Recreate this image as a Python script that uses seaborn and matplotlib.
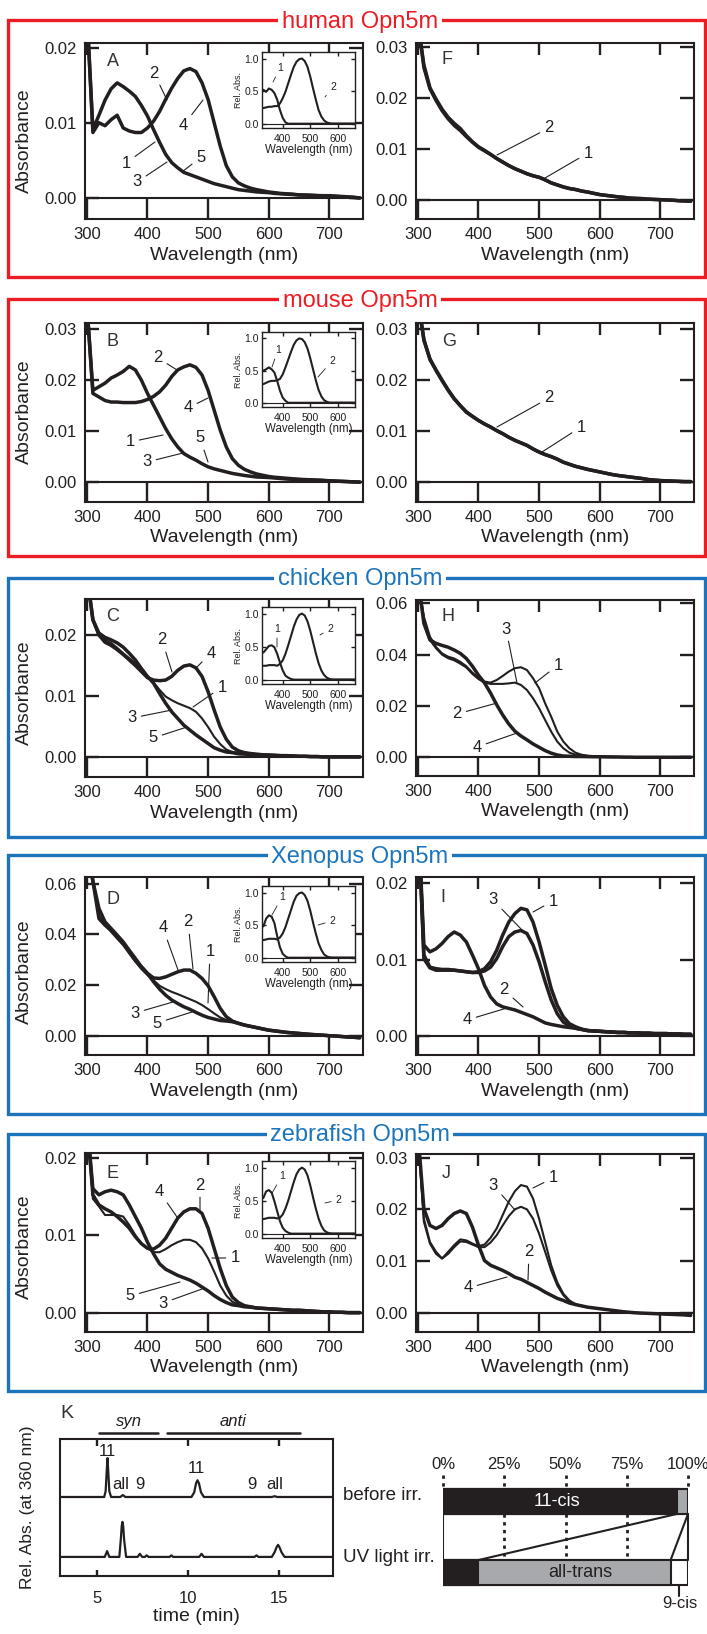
import numpy as np
import pandas as pd
import matplotlib
matplotlib.use('Agg')
import matplotlib.pyplot as plt
from matplotlib.patches import Rectangle
from matplotlib.ticker import FormatStrFormatter
import seaborn as sns

W, H = 707, 1634
INK = '#231F20'
RED = '#ED1C24'
BLUE = '#1C75BC'
GRAY = '#A7A9AC'

# ---------------- data (absorbance in mAbs) ----------------
WL = list(range(300, 760, 10))
IN_WL = list(range(330, 670, 10))

A_UV = [25, 9.1, 11.0, 13.0, 14.5, 15.3, 14.8, 14.2, 13.5, 12.3,
        10.9, 9.1, 7.4, 5.8, 4.7, 4.0, 3.4, 3.1, 2.8, 2.5,
        2.2, 1.9, 1.7, 1.5, 1.3, 1.1, 1.0, 0.9, 0.8, 0.75,
        0.7, 0.6, 0.55, 0.5, 0.45, 0.4, 0.38, 0.35, 0.32, 0.3,
        0.3, 0.25, 0.2, 0.15, 0.1, 0.0]
A_VIS = [25, 8.7, 10.0, 9.6, 10.4, 11.0, 9.3, 8.9, 8.7, 8.7,
         9.3, 10.2, 11.5, 13.1, 14.6, 15.9, 16.9, 17.2, 16.8, 15.3,
         13.1, 10.0, 6.9, 4.3, 2.8, 2.0, 1.6, 1.3, 1.1, 0.95,
         0.8, 0.7, 0.6, 0.55, 0.5, 0.4, 0.38, 0.35, 0.3, 0.28,
         0.25, 0.2, 0.15, 0.1, 0.05, 0.0]
F_1 = [35, 26.0, 21.8, 19.5, 17.5, 15.9, 14.6, 13.6, 12.4, 11.3,
       10.3, 9.6, 8.9, 8.1, 7.4, 6.7, 6.1, 5.6, 5.1, 4.7,
       4.4, 3.9, 3.3, 2.9, 2.5, 2.2, 2.0, 1.7, 1.5, 1.25,
       1.0, 0.85, 0.7, 0.55, 0.45, 0.3, 0.25, 0.2, 0.1, 0.05,
       0.0, -0.05, -0.1, -0.2, -0.25, -0.3]
F_2 = [35, 26.5, 22.0, 19.8, 17.8, 16.2, 15.0, 14.0, 12.6, 11.4,
       10.4, 9.7, 8.9, 8.1, 7.4, 6.7, 6.1, 5.6, 5.1, 4.7,
       4.4, 3.9, 3.3, 2.9, 2.5, 2.2, 2.0, 1.7, 1.5, 1.25,
       1.0, 0.85, 0.7, 0.55, 0.45, 0.3, 0.25, 0.2, 0.1, 0.05,
       0.0, -0.05, -0.1, -0.2, -0.25, -0.3]
B_UV = [35, 18.0, 18.7, 19.4, 20.4, 21.0, 21.7, 22.7, 22.0, 20.0,
        17.4, 15.1, 12.8, 10.5, 8.5, 6.9, 5.6, 4.9, 4.3, 3.6,
        3.0, 2.6, 2.3, 2.0, 1.7, 1.5, 1.3, 1.15, 1.0, 0.95,
        0.9, 0.8, 0.7, 0.6, 0.55, 0.5, 0.45, 0.4, 0.35, 0.3,
        0.25, 0.2, 0.15, 0.1, 0.05, 0.0]
B_VIS = [35, 17.4, 16.7, 16.0, 15.7, 15.7, 15.6, 15.6, 15.6, 15.8,
         16.2, 16.8, 17.7, 19.0, 20.7, 22.0, 22.6, 23.0, 22.5, 21.0,
         18.0, 14.1, 10.2, 6.9, 4.6, 3.3, 2.5, 2.0, 1.6, 1.35,
         1.1, 0.95, 0.85, 0.75, 0.65, 0.55, 0.5, 0.45, 0.4, 0.35,
         0.25, 0.2, 0.15, 0.1, 0.05, 0.0]
G_1 = [36, 27.8, 24.2, 21.9, 19.9, 18.0, 16.3, 15.0, 13.7, 12.9,
       12.1, 11.4, 10.8, 10.1, 9.5, 8.8, 8.2, 7.7, 7.2, 6.5,
       5.9, 5.4, 5.0, 4.5, 3.9, 3.5, 3.1, 2.8, 2.5, 2.25,
       2.0, 1.75, 1.5, 1.3, 1.15, 1.0, 0.85, 0.7, 0.5, 0.4,
       0.3, 0.25, 0.2, 0.15, 0.1, 0.1]
G_2 = [36, 28.0, 24.0, 22.0, 20.0, 18.1, 16.4, 15.0, 13.8, 12.9,
       12.1, 11.4, 10.8, 10.1, 9.5, 8.8, 8.2, 7.7, 7.2, 6.5,
       5.9, 5.4, 5.0, 4.5, 3.9, 3.5, 3.1, 2.8, 2.5, 2.25,
       2.0, 1.75, 1.5, 1.3, 1.15, 1.0, 0.85, 0.7, 0.5, 0.4,
       0.3, 0.25, 0.2, 0.15, 0.1, 0.1]
C_VIS = [30, 22.5, 20.0, 18.8, 18.3, 17.6, 16.8, 15.9, 15.0, 14.0,
         13.0, 12.6, 12.5, 12.6, 13.2, 14.2, 14.9, 15.1, 14.6, 13.2,
         10.7, 7.7, 4.9, 2.9, 1.6, 1.0, 0.7, 0.55, 0.45, 0.35,
         0.3, 0.25, 0.2, 0.2, 0.15, 0.1, 0.1, 0.05, 0.05, 0.0,
         0.0, 0.0, 0.0, 0.0, 0.0, 0.0]
C_1 = [30, 22.5, 19.8, 19.2, 18.7, 17.9, 17.0, 16.2, 15.4, 14.3,
       13.2, 12.2, 11.0, 9.9, 9.3, 8.8, 8.4, 8.0, 7.4, 6.3,
       4.9, 3.3, 2.1, 1.2, 0.8, 0.7, 0.55, 0.45, 0.4, 0.35,
       0.3, 0.25, 0.2, 0.2, 0.15, 0.1, 0.1, 0.05, 0.05, 0.0,
       0.0, 0.0, 0.0, 0.0, 0.0, 0.0]
C_UV = [30, 22.5, 20.3, 19.6, 19.2, 18.7, 18.0, 17.0, 15.9, 14.5,
        13.2, 12.1, 10.4, 8.8, 7.4, 6.3, 5.2, 4.4, 3.6, 2.9,
        2.2, 1.5, 1.1, 0.8, 0.7, 0.5, 0.45, 0.4, 0.35, 0.3,
        0.3, 0.25, 0.2, 0.2, 0.15, 0.1, 0.1, 0.05, 0.05, 0.0,
        0.0, 0.0, 0.0, 0.0, 0.0, 0.0]
H_1 = [70, 54.8, 47.0, 43.0, 40.5, 39.2, 38.5, 37.2, 35.5, 33.0,
       31.0, 29.5, 29.1, 30.1, 31.7, 33.4, 34.7, 35.1, 34.0, 30.8,
       26.9, 21.0, 15.8, 10.0, 6.1, 3.5, 1.8, 1.0, 0.6, 0.45,
       0.3, 0.25, 0.2, 0.15, 0.1, 0.1, 0.05, 0.05, 0.0, 0.0,
       0.0, 0.0, 0.0, 0.0, 0.0, 0.0]
H_3 = [70, 54.0, 45.7, 42.5, 40.0, 38.6, 37.8, 36.5, 35.0, 32.5,
       30.5, 29.1, 28.6, 28.6, 28.6, 28.8, 29.1, 28.2, 26.2, 23.0,
       19.1, 14.5, 10.0, 6.1, 3.5, 1.8, 1.0, 0.7, 0.5, 0.4,
       0.3, 0.25, 0.2, 0.15, 0.1, 0.1, 0.05, 0.05, 0.0, 0.0,
       0.0, 0.0, 0.0, 0.0, 0.0, 0.0]
H_2 = [70, 52.2, 45.7, 44.4, 43.6, 42.9, 41.8, 40.5, 38.5, 35.5,
       32.0, 29.0, 25.0, 20.5, 16.5, 13.0, 10.2, 8.3, 6.8, 5.2,
       3.9, 2.6, 1.6, 0.9, 0.5, 0.4, 0.3, 0.3, 0.25, 0.2,
       0.2, 0.15, 0.1, 0.1, 0.05, 0.05, 0.0, 0.0, 0.0, 0.0,
       0.0, 0.0, 0.0, 0.0, 0.0, 0.0]
D_VIS = [75, 61.0, 50.2, 44.9, 42.3, 39.7, 37.0, 33.7, 30.5, 27.2,
         24.6, 22.8, 22.6, 23.2, 24.2, 25.2, 25.9, 25.9, 24.6, 22.6,
         19.7, 15.4, 10.8, 7.5, 5.8, 4.9, 4.2, 3.7, 3.2, 2.7,
         2.2, 1.9, 1.6, 1.3, 1.1, 0.9, 0.7, 0.5, 0.35, 0.2,
         0.0, -0.1, -0.3, -0.5, -0.6, -0.8]
D_1 = [75, 61.0, 47.5, 43.6, 41.0, 38.3, 35.7, 32.4, 29.2, 26.3,
       23.9, 21.9, 19.7, 18.4, 17.3, 16.4, 15.4, 14.4, 13.4, 12.1,
       10.5, 8.8, 7.2, 6.2, 5.5, 4.9, 4.2, 3.7, 3.2, 2.7,
       2.2, 1.9, 1.6, 1.3, 1.1, 0.9, 0.7, 0.5, 0.35, 0.2,
       0.0, -0.1, -0.3, -0.5, -0.6, -0.8]
D_UV = [75, 61.0, 46.2, 43.6, 41.6, 39.0, 36.4, 33.1, 29.8, 27.2,
        24.6, 21.3, 18.4, 16.0, 14.1, 12.7, 11.4, 10.4, 9.2, 8.1,
        7.2, 6.6, 6.0, 5.8, 5.5, 4.9, 4.2, 3.7, 3.2, 2.7,
        2.2, 1.9, 1.6, 1.3, 1.1, 0.9, 0.7, 0.5, 0.35, 0.2,
        0.0, -0.1, -0.3, -0.5, -0.6, -0.8]
I_UV = [30, 11.9, 11.0, 11.4, 12.1, 13.0, 13.6, 13.2, 12.3, 10.6,
        8.8, 6.6, 5.1, 4.2, 3.8, 3.6, 3.4, 3.1, 2.8, 2.5,
        2.1, 1.7, 1.5, 1.35, 1.2, 1.1, 1.0, 0.85, 0.7, 0.65,
        0.6, 0.55, 0.5, 0.45, 0.45, 0.4, 0.4, 0.35, 0.35, 0.3,
        0.3, 0.3, 0.25, 0.25, 0.2, 0.2]
I_1 = [30, 10.6, 9.0, 8.8, 8.7, 8.7, 8.6, 8.5, 8.4, 8.3,
       8.4, 8.8, 9.7, 11.2, 13.2, 14.9, 16.0, 16.7, 16.5, 14.9,
       12.3, 9.3, 6.2, 4.0, 2.5, 1.6, 1.2, 0.9, 0.7, 0.65,
       0.6, 0.55, 0.5, 0.45, 0.45, 0.4, 0.4, 0.35, 0.35, 0.3,
       0.3, 0.3, 0.25, 0.25, 0.2, 0.2]
I_3 = [30, 10.1, 8.9, 8.6, 8.6, 8.6, 8.6, 8.5, 8.4, 8.3,
       8.3, 8.5, 9.0, 10.1, 11.7, 13.0, 13.6, 13.8, 13.4, 11.9,
       9.7, 7.1, 4.7, 2.9, 1.8, 1.3, 1.0, 0.85, 0.7, 0.65,
       0.6, 0.55, 0.5, 0.45, 0.45, 0.4, 0.4, 0.35, 0.35, 0.3,
       0.3, 0.3, 0.25, 0.25, 0.2, 0.2]
E_UV = [25, 16.0, 15.2, 15.6, 15.8, 15.6, 15.2, 13.9, 12.4, 10.9,
        9.1, 7.6, 6.3, 5.6, 5.2, 4.8, 4.5, 4.2, 3.8, 3.3,
        2.8, 2.2, 1.7, 1.3, 1.0, 0.9, 0.75, 0.7, 0.6, 0.55,
        0.5, 0.45, 0.4, 0.35, 0.3, 0.3, 0.25, 0.2, 0.15, 0.1,
        0.1, 0.05, 0.05, 0.0, 0.0, 0.0]
E_VIS = [25, 15.2, 13.9, 13.4, 13.0, 12.4, 11.7, 10.9, 9.8, 8.9,
         8.3, 8.2, 8.7, 9.6, 10.9, 12.2, 13.0, 13.4, 13.4, 12.8,
         10.9, 8.3, 5.7, 3.5, 2.0, 1.3, 0.9, 0.75, 0.6, 0.55,
         0.5, 0.45, 0.4, 0.35, 0.3, 0.3, 0.25, 0.2, 0.15, 0.1,
         0.1, 0.05, 0.05, 0.0, 0.0, 0.0]
E_1 = [25, 14.7, 13.7, 12.6, 12.6, 12.6, 12.4, 11.3, 10.0, 8.9,
       8.3, 7.8, 7.8, 8.2, 8.7, 9.1, 9.4, 9.4, 9.1, 8.3,
       7.0, 5.3, 3.5, 2.2, 1.4, 1.0, 0.8, 0.7, 0.6, 0.55,
       0.5, 0.45, 0.4, 0.35, 0.3, 0.3, 0.25, 0.2, 0.15, 0.1,
       0.1, 0.05, 0.05, 0.0, 0.0, 0.0]
J_UV = [35, 20.2, 16.9, 16.3, 16.9, 18.2, 19.2, 19.7, 19.2, 16.6,
        13.1, 10.1, 9.2, 8.7, 8.2, 7.6, 6.9, 6.5, 5.9, 5.3,
        4.7, 4.0, 3.4, 2.8, 2.4, 1.9, 1.6, 1.35, 1.1, 0.95,
        0.8, 0.65, 0.5, 0.35, 0.2, 0.1, 0.0, -0.05, -0.1, -0.15,
        -0.2, -0.25, -0.3, -0.35, -0.4, -0.5]
J_1 = [35, 18.2, 13.7, 11.8, 10.5, 11.8, 13.1, 14.2, 14.0, 13.4,
       12.9, 13.2, 14.5, 16.3, 18.9, 21.5, 23.5, 24.7, 24.4, 22.1,
       18.2, 13.7, 9.2, 5.9, 3.7, 2.4, 1.7, 1.35, 1.1, 0.95,
       0.8, 0.65, 0.5, 0.35, 0.2, 0.1, 0.0, -0.05, -0.1, -0.15,
       -0.2, -0.25, -0.3, -0.35, -0.4, -0.5]
J_3 = [35, 17.6, 13.4, 11.4, 10.5, 11.4, 12.7, 13.8, 13.7, 13.2,
       12.7, 12.7, 13.6, 15.0, 16.9, 18.7, 20.0, 20.5, 20.0, 18.2,
       15.3, 11.8, 8.2, 5.3, 3.4, 2.2, 1.6, 1.35, 1.1, 0.95,
       0.8, 0.65, 0.5, 0.35, 0.2, 0.1, 0.0, -0.05, -0.1, -0.15,
       -0.2, -0.25, -0.3, -0.35, -0.4, -0.5]

# insets: relative absorbance, 330..660 nm
INA_1 = [.52, .49, .54, .52, .47, .37, .21, .09, .02, 0,
         0, 0, 0, 0, 0, 0, 0, 0, 0, 0,
         0, 0, 0, 0, 0, 0, 0, 0, 0, 0, 0, 0, 0, 0]
INA_2 = [.24, .25, .26, .26, .27, .27, .31, .39, .49, .62,
         .75, .87, .95, .99, 1.0, .96, .87, .72, .54, .37,
         .21, .11, .05, .02, .005, 0, 0, 0, 0, 0, 0, 0, 0, 0]
INB_1 = [.50, .52, .55, .52, .47, .34, .19, .08, .03, 0,
         0, 0, 0, 0, 0, 0, 0, 0, 0, 0,
         0, 0, 0, 0, 0, 0, 0, 0, 0, 0, 0, 0, 0, 0]
INB_2 = [.29, .31, .33, .34, .34, .35, .37, .44, .55, .67,
         .79, .90, .97, 1.0, .99, .94, .84, .69, .52, .35,
         .20, .10, .04, .015, 0, 0, 0, 0, 0, 0, 0, 0, 0, 0]
INC_1 = [.41, .46, .51, .52, .49, .39, .26, .14, .06, .03,
         .01, 0, 0, 0, 0, 0, 0, 0, 0, 0,
         0, 0, 0, 0, 0, 0, 0, 0, 0, 0, 0, 0, 0, 0]
INC_2 = [.21, .21, .22, .22, .22, .21, .24, .29, .39, .52,
         .66, .80, .91, .98, 1.0, .97, .88, .74, .57, .40,
         .25, .14, .07, .03, .01, 0, 0, 0, 0, 0, 0, 0, 0, 0]
IND_1 = [.48, .60, .65, .63, .53, .33, .16, .06, .02, 0,
         0, 0, 0, 0, 0, 0, 0, 0, 0, 0,
         0, 0, 0, 0, 0, 0, 0, 0, 0, 0, 0, 0, 0, 0]
IND_2 = [.27, .28, .29, .29, .29, .28, .31, .37, .47, .60,
         .73, .86, .95, .99, 1.0, .96, .87, .72, .54, .37,
         .22, .12, .05, .02, .005, 0, 0, 0, 0, 0, 0, 0, 0, 0]
INE_1 = [.54, .64, .66, .62, .49, .34, .19, .09, .04, .015,
         0, 0, 0, 0, 0, 0, 0, 0, 0, 0,
         0, 0, 0, 0, 0, 0, 0, 0, 0, 0, 0, 0, 0, 0]
INE_2 = [.22, .23, .24, .24, .24, .23, .24, .29, .38, .50,
         .64, .78, .90, .97, 1.0, .97, .88, .73, .55, .38,
         .23, .12, .05, .02, .005, 0, 0, 0, 0, 0, 0, 0, 0, 0]

# HPLC chromatograms (time in min, relative absorbance at 360 nm)
K_BEFORE_T = [3.0, 5.42, 5.50, 5.55, 5.60, 5.65, 5.70, 5.80, 6.30, 6.44, 6.58,
              10.20, 10.35, 10.45, 10.53, 10.61, 10.72, 10.88, 14.6, 14.75, 14.9, 18.0]
K_BEFORE_V = [0, 0, 0.15, 0.6, 1.0, 0.6, 0.15, 0, 0, 0.05, 0,
              0, 0.12, 0.35, 0.43, 0.35, 0.12, 0, 0, 0.02, 0, 0]
K_AFTER_T = [3.0, 5.45, 5.58, 5.70, 6.25, 6.33, 6.38, 6.42, 6.46, 6.51, 6.62,
             7.25, 7.37, 7.50, 7.65, 7.74, 7.85, 9.0, 9.1, 9.2,
             10.62, 10.75, 10.88, 13.65, 13.76, 13.87,
             14.60, 14.75, 14.86, 14.94, 15.02, 15.13, 15.30, 18.0]
K_AFTER_V = [0, 0, 0.15, 0, 0, 0.45, 0.8, 0.9, 0.8, 0.45, 0,
             0, 0.08, 0, 0, 0.04, 0, 0, 0.04, 0,
             0, 0.08, 0, 0, 0.04, 0,
             0, 0.12, 0.25, 0.31, 0.25, 0.12, 0, 0]
K_PEAKS = [('11', 5.62, 2.72), ('all', 6.31, 1.87), ('9', 7.37, 1.87),
           ('11', 10.45, 2.28), ('9', 13.52, 1.87), ('all', 14.76, 1.87)]

# retinal isomer composition (%)
STATES = ['before irr.', 'UV light irr.']
PCT_11CIS = [95.5, 14.4]
PCT_ALLTRANS = [4.5, 78.5]
PCT_9CIS = [0.0, 7.1]

# ---------------- style ----------------
sns.set_theme(style='ticks')
plt.rcParams['font.family'] = ['Liberation Sans', 'DejaVu Sans']
plt.rcParams['text.color'] = INK
plt.rcParams['axes.labelcolor'] = INK
plt.rcParams['xtick.color'] = INK
plt.rcParams['ytick.color'] = INK

fig = plt.figure(figsize=(W / 100, H / 100), dpi=100)


def px_axes(l, t, r, b, **kw):
    return fig.add_axes([l / W, 1 - b / H, (r - l) / W, (b - t) / H], **kw)


def fp(x, y):
    return (x, H - y)


def inner_ticks(ax, box, xt, yt, xb, xtop, yl, lw):
    """Inward tick marks drawn as short line segments (lengths in px)."""
    l, t, r, b = box
    wpx, hpx = r - l, b - t
    ax.tick_params(length=0)
    tx = ax.get_xaxis_transform()
    ty = ax.get_yaxis_transform()
    if xt:
        ax.vlines(xt, 0, xb / hpx, transform=tx, colors=INK, lw=lw, zorder=3)
        ax.vlines(xt, 1 - xtop / hpx, 1, transform=tx, colors=INK, lw=lw, zorder=3)
    if yt and yl:
        ax.hlines(yt, 0, yl / wpx, transform=ty, colors=INK, lw=lw, zorder=3)
        ax.hlines(yt, 1 - yl / wpx, 1, transform=ty, colors=INK, lw=lw, zorder=3)


# overlay for the coloured group boxes
ov = fig.add_axes([0, 0, 1, 1], zorder=-5)
ov.set_xlim(0, W)
ov.set_ylim(H, 0)
ov.set_axis_off()
BOXES = [(20, 277, RED, 'human Opn5m'), (299, 556, RED, 'mouse Opn5m'),
         (578, 837, BLUE, 'chicken Opn5m'), (855, 1114, BLUE, 'Xenopus Opn5m'),
         (1134, 1391, BLUE, 'zebrafish Opn5m')]
for top, bot, col, title in BOXES:
    ov.add_patch(Rectangle((8, top), 697, bot - top, fill=False, ec=col, lw=2.4))
    ov.text(360, top + 1.5, title, color=col, fontsize=17, ha='center', va='center',
            bbox=dict(fc='white', ec='none', pad=2.5))


def spectra_panel(box, ylim, yticks, curves, letter, letter_px, notes, ylabel_y=None):
    l, t, r, b = box
    ax = px_axes(*box)
    for arr, lw in curves:
        sns.lineplot(x=WL, y=np.asarray(arr) / 1000.0, ax=ax, color=INK, linewidth=lw)
    ax.axhline(0, color=INK, lw=1.5, zorder=1)
    ax.set_xlim(297, 755.5)
    ax.set_ylim(*ylim)
    xt = [300, 400, 500, 600, 700]
    ax.set_xticks(xt)
    ax.set_yticks(yticks)
    ax.yaxis.set_major_formatter(FormatStrFormatter('%.2f'))
    ax.tick_params(labelsize=12)
    ax.tick_params(axis='x', pad=5.5)
    ax.tick_params(axis='y', pad=6)
    inner_ticks(ax, box, xt, list(yticks), 20, 12, 14, 1.7)
    for s in ax.spines.values():
        s.set_linewidth(1.5)
        s.set_color(INK)
    ax.set_xlabel('Wavelength (nm)', fontsize=14)
    ax.xaxis.set_label_coords(0.5, -27.5 / (b - t))
    if ylabel_y is not None:
        ax.set_ylabel('Absorbance', fontsize=14)
        ax.yaxis.set_label_coords((33 - l) / (r - l), 1 - (ylabel_y - t) / (b - t))
    else:
        ax.set_ylabel('')
    fig.text(letter_px[0] / W, 1 - letter_px[1] / H, letter, fontsize=13,
             ha='center', va='center', color='#333333')
    for lab, txt, tip in notes:
        ax.annotate(lab, xy=fp(*tip), xycoords='figure pixels', xytext=fp(*txt),
                    textcoords='figure pixels', fontsize=12, ha='center', va='center',
                    arrowprops=dict(arrowstyle='-', lw=0.8, color=INK, shrinkA=1, shrinkB=0))
    return ax


def inset(box, c1, c2, notes):
    ax = px_axes(*box)
    sns.lineplot(x=IN_WL, y=c1, ax=ax, color=INK, linewidth=1.5)
    sns.lineplot(x=IN_WL, y=c2, ax=ax, color=INK, linewidth=1.5)
    ax.axhline(0, color=INK, lw=0.8)
    ax.set_xlim(325, 662)
    ax.set_ylim(-0.066, 1.10)
    ax.set_xticks([400, 500, 600])
    ax.set_yticks([0, 0.5, 1.0])
    ax.yaxis.set_major_formatter(FormatStrFormatter('%.1f'))
    ax.tick_params(labelsize=7.5)
    ax.tick_params(axis='x', pad=4.5)
    ax.tick_params(axis='y', pad=2.5)
    inner_ticks(ax, box, [400, 500, 600], [0, 0.5, 1.0], 4, 4, 4, 1.0)
    for s in ax.spines.values():
        s.set_linewidth(1.0)
        s.set_color(INK)
    ax.set_xlabel('Wavelength (nm)', fontsize=8.3, labelpad=0)
    ax.set_ylabel('Rel. Abs.', fontsize=6.5, labelpad=1)
    for lab, txt, tip in notes:
        ax.annotate(lab, xy=fp(*tip), xycoords='figure pixels', xytext=fp(*txt),
                    textcoords='figure pixels', fontsize=7.5, ha='center', va='center',
                    arrowprops=dict(arrowstyle='-', lw=0.6, color=INK, shrinkA=0.5, shrinkB=0))
    return ax


TH, TN = 2.5, 1.5
# human
spectra_panel((85, 43, 363, 219), (-0.0028, 0.0206), [0, 0.01, 0.02],
              [(A_UV, TH), (A_VIS, TH)], 'A', (113, 62),
              [('2', (154, 73), (167, 100)), ('4', (183, 126), (203, 100)),
               ('1', (126, 163), (155, 142)), ('3', (137, 182), (167, 162)),
               ('5', (201, 157), (182, 172))], ylabel_y=141)
inset((262, 52, 355, 128), INA_1, INA_2,
      [('1', (280, 68), (273, 82)), ('2', (333, 87), (325, 97))])
spectra_panel((416, 43, 694, 219), (-0.0038, 0.0308), [0, 0.01, 0.02, 0.03],
              [(F_1, TH), (F_2, TH)], 'F', (447, 60),
              [('2', (549, 128), (497, 155)), ('1', (588, 153), (545, 178))])
# mouse
spectra_panel((85, 323, 363, 502), (-0.0039, 0.0312), [0, 0.01, 0.02, 0.03],
              [(B_UV, TH), (B_VIS, TH)], 'B', (113, 342),
              [('2', (158, 358), (177, 370)), ('4', (188, 408), (208, 398)),
               ('1', (130, 442), (163, 435)), ('3', (147, 462), (183, 453)),
               ('5', (200, 438), (208, 462))], ylabel_y=412)
inset((262, 332, 355, 407), INB_1, INB_2,
      [('1', (278, 350), (272, 367)), ('2', (332, 361), (318, 377))])
spectra_panel((416, 323, 694, 502), (-0.0039, 0.0312), [0, 0.01, 0.02, 0.03],
              [(G_1, TH), (G_2, TH)], 'G', (449, 341),
              [('2', (549, 398), (497, 427)), ('1', (581, 427), (542, 452))])
# chicken
spectra_panel((85, 599, 363, 777), (-0.0033, 0.0259), [0, 0.01, 0.02],
              [(C_UV, TH), (C_1, TN), (C_VIS, TH)], 'C', (113, 617),
              [('2', (162, 640), (172, 672)), ('4', (211, 653), (197, 667)),
               ('1', (222, 687), (193, 707)), ('3', (132, 718), (172, 710)),
               ('5', (153, 738), (187, 727))], ylabel_y=693)
inset((262, 607, 355, 684), INC_1, INC_2,
      [('1', (277, 629), (277, 647)), ('2', (330, 629), (320, 635))])
spectra_panel((416, 600, 694, 776), (-0.0073, 0.0613), [0, 0.02, 0.04, 0.06],
              [(H_2, TH), (H_3, TN), (H_1, TN)], 'H', (448, 617),
              [('3', (506, 629), (517, 683)), ('1', (558, 665), (535, 683)),
               ('2', (457, 714), (497, 703)), ('4', (477, 747), (517, 733))])
# Xenopus
spectra_panel((85, 877, 363, 1055), (-0.0076, 0.0626), [0, 0.02, 0.04, 0.06],
              [(D_UV, TH), (D_1, TN), (D_VIS, TH)], 'D', (113, 900),
              [('4', (163, 928), (178, 970)), ('2', (188, 922), (193, 969)),
               ('1', (210, 952), (208, 1003)), ('3', (135, 1013), (173, 1002)),
               ('5', (157, 1023), (192, 1012))], ylabel_y=972)
inset((262, 886, 355, 962), IND_1, IND_2,
      [('1', (282, 897), (272, 915)), ('2', (332, 921), (318, 925))])
spectra_panel((416, 877, 694, 1055), (-0.0025, 0.0208), [0, 0.01, 0.02],
              [(I_UV, TH), (I_3, TH), (I_1, TH)], 'I', (443, 898),
              [('3', (493, 900), (522, 930)), ('1', (553, 901), (533, 912)),
               ('2', (504, 990), (523, 1007)), ('4', (467, 1020), (507, 1008))])
# zebrafish
spectra_panel((85, 1153, 363, 1332), (-0.0025, 0.0206), [0, 0.01, 0.02],
              [(E_UV, TH), (E_1, TN), (E_VIS, TH)], 'E', (113, 1173),
              [('4', (159, 1191), (177, 1217)), ('2', (200, 1185), (200, 1210)),
               ('1', (235, 1258), (212, 1258)), ('5', (130, 1296), (180, 1282)),
               ('3', (163, 1303), (202, 1289))], ylabel_y=1247)
inset((262, 1161, 355, 1238), INE_1, INE_2,
      [('1', (282, 1176), (272, 1193)), ('2', (338, 1200), (325, 1203))])
spectra_panel((416, 1154, 694, 1332), (-0.0037, 0.0307), [0, 0.01, 0.02, 0.03],
              [(J_UV, TH), (J_3, TN), (J_1, TN)], 'J', (446, 1173),
              [('1', (553, 1178), (533, 1188)), ('3', (493, 1185), (515, 1210)),
               ('2', (529, 1252), (528, 1280)), ('4', (468, 1288), (507, 1277))])

# ---------------- panel K: HPLC ----------------
K_OFFSET = 1.54
KBOX = (60, 1439, 333, 1576)
axk = px_axes(*KBOX)
sns.lineplot(x=K_BEFORE_T, y=np.asarray(K_BEFORE_V) + K_OFFSET, ax=axk, color=INK,
             linewidth=1.6, sort=False)
sns.lineplot(x=K_AFTER_T, y=K_AFTER_V, ax=axk, color=INK, linewidth=1.6, sort=False)
axk.set_xlim(3, 17.95)
axk.set_ylim(-0.49, 3.03)
axk.set_xticks([5, 10, 15])
axk.set_yticks([])
axk.tick_params(labelsize=12, pad=11)
inner_ticks(axk, KBOX, [5, 10, 15], [], 6, 7, 0, 1.7)
for s in axk.spines.values():
    s.set_linewidth(1.5)
    s.set_color(INK)
axk.set_xlabel('time (min)', fontsize=14)
axk.xaxis.set_label_coords(0.5, -32 / 137)
axk.set_ylabel('Rel. Abs. (at 360 nm)', fontsize=12.5)
axk.yaxis.set_label_coords((35 - 60) / 273, 0.5)
for lab, tx, ty in K_PEAKS:
    axk.text(tx, ty, lab, fontsize=12, ha='center', va='center')
axk.plot([5.16, 8.35], [3.18, 3.18], color=INK, lw=1.8, clip_on=False)
axk.plot([8.87, 16.12], [3.18, 3.18], color=INK, lw=1.8, clip_on=False)
axk.text(6.8, 3.47, 'syn', fontsize=12, style='italic', ha='center', va='center')
axk.text(12.47, 3.47, 'anti', fontsize=12, style='italic', ha='center', va='center')
fig.text(60 / W, 1 - 1413 / H, 'K', fontsize=14, ha='left', va='center', color='#333333')
fig.text(343 / W, 1 - 1495 / H, 'before irr.', fontsize=13.5, ha='left', va='center')
fig.text(343 / W, 1 - 1557 / H, 'UV light irr.', fontsize=13.5, ha='left', va='center')

# ---------------- isomer composition bars ----------------
axb = px_axes(443, 1475, 688, 1610)
cum1 = np.asarray(PCT_11CIS)
cum2 = cum1 + np.asarray(PCT_ALLTRANS)
cum3 = cum2 + np.asarray(PCT_9CIS)
for cum, col in [(cum3, 'white'), (cum2, GRAY), (cum1, INK)]:
    sns.barplot(x=cum, y=STATES, orient='h', color=col, saturation=1, width=0.35,
                edgecolor=INK, linewidth=1.5, errorbar=None, ax=axb)
axb.set_xlim(0, 100)
axb.set_ylim(1.528, -0.373)
axb.vlines([25, 50, 75], -0.373, 0.825, colors=INK, linestyles=(0, (1.2, 1.6)), lw=2, zorder=0.5)
axb.vlines([0, 100], -0.373, -0.175, colors=INK, linestyles=(0, (1.2, 1.6)), lw=2, zorder=0.5,
           clip_on=False)
axb.plot([0, 0], [0.175, 0.825], color=INK, lw=1.5)
axb.plot([100, 100], [0.175, 0.825], color=INK, lw=1.5, clip_on=False)
axb.plot([PCT_11CIS[0], PCT_11CIS[1]], [0.175, 0.825], color=INK, lw=1.5)
axb.plot([100, cum2[1]], [0.175, 0.825], color=INK, lw=1.5, clip_on=False)
axb.plot([96.5, 96.5], [1.175, 1.33], color=INK, lw=1.5)
axb.text(96.5, 1.44, '9-cis', fontsize=12, ha='center', va='center')
axb.text(46.5, 0, '11-cis', fontsize=13, ha='center', va='center', color='white')
axb.text(56, 1, 'all-trans', fontsize=13, ha='center', va='center', color=INK)
axb.xaxis.tick_top()
axb.set_xticks([0, 25, 50, 75, 100])
axb.set_xticklabels(['0%', '25%', '50%', '75%', '100%'])
axb.tick_params(axis='x', length=0, pad=2, labelsize=12)
axb.set_yticks([])
axb.set_xlabel('')
axb.set_ylabel('')
for s in axb.spines.values():
    s.set_visible(False)

fig.savefig('out.png', dpi=100)
